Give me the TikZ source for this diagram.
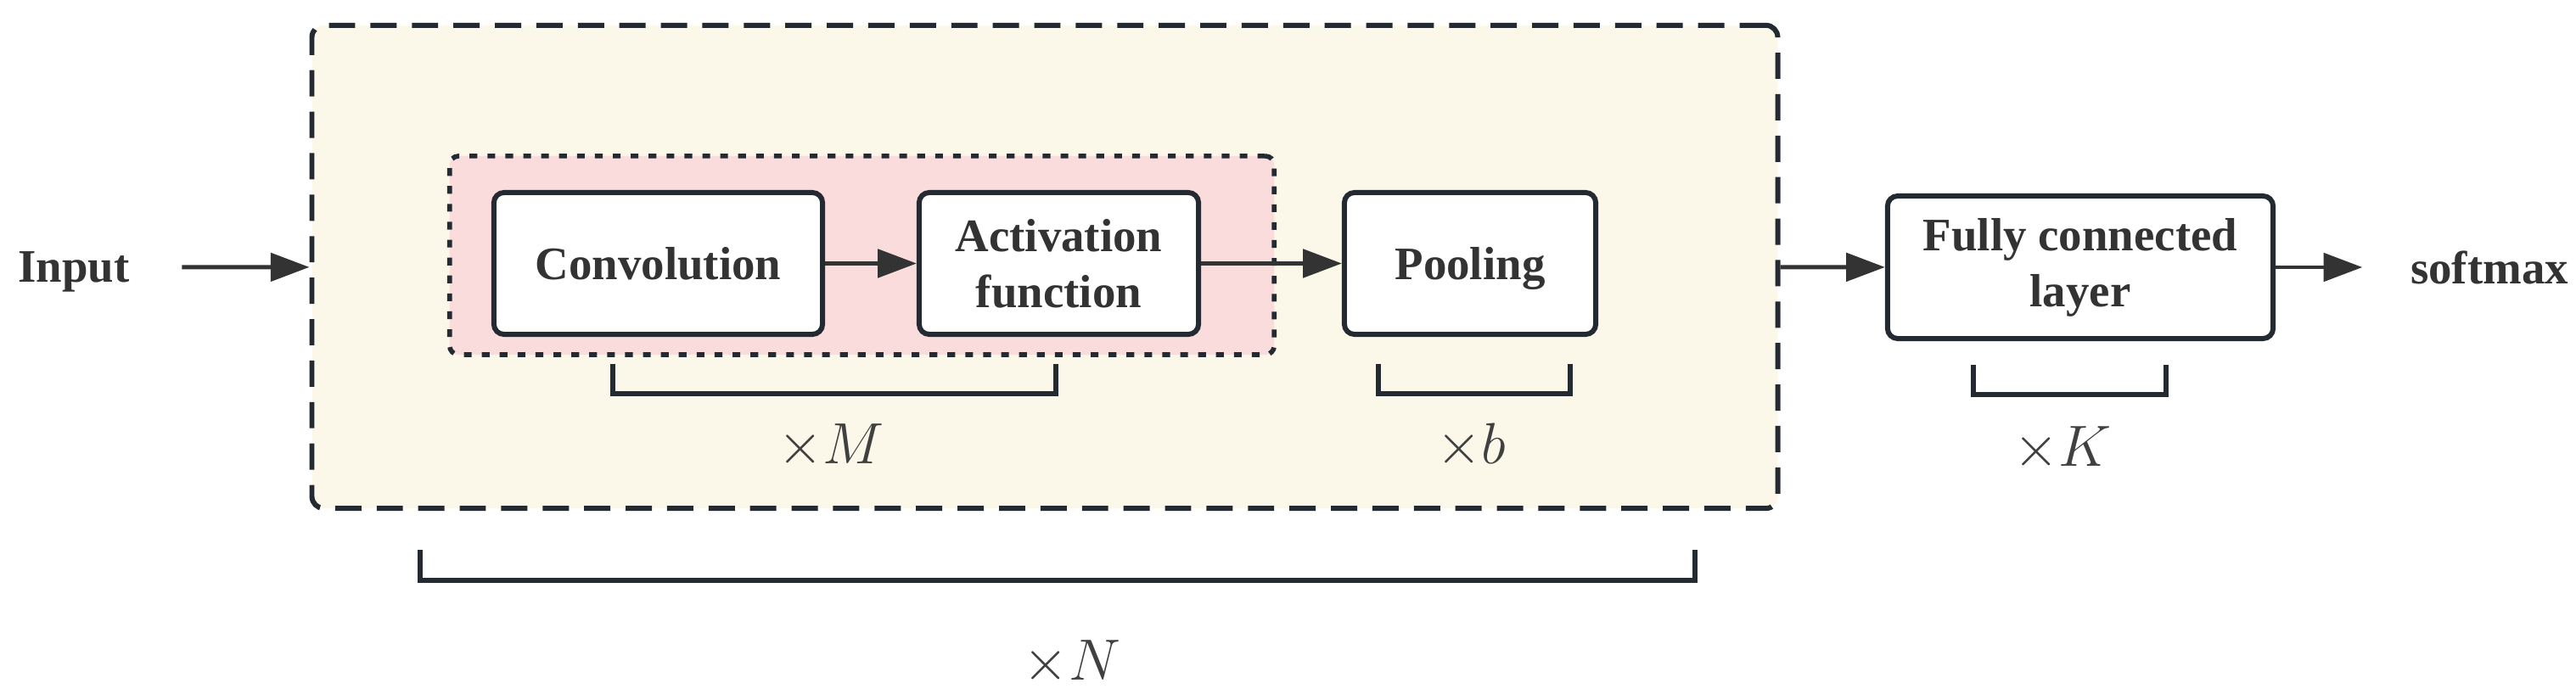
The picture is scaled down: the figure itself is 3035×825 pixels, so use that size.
\documentclass[tikz,border=0pt]{standalone}
\usepackage{fix-cm}
\usepackage{fontspec}
\setmainfont{Liberation Serif}
\usepackage{tikz}
\usetikzlibrary{arrows.meta}
\definecolor{edgegray}{HTML}{232A31}
\definecolor{arrowgray}{HTML}{333333}
\definecolor{creamfill}{HTML}{FBF8EA}
\definecolor{pinkfill}{HTML}{FADCDC}
\tikzset{
  font={\fontsize{15.6pt}{18.8pt}\selectfont\bfseries},
  every node/.style={text=arrowgray},
  layerbox/.style={draw=edgegray, line width=1.7pt, rounded corners=3.4pt, fill=white, align=center, inner sep=0pt},
  flow/.style={draw=arrowgray, line width=1.4pt, -{Triangle[length=13pt,width=9.4pt]}},
  brak/.style={draw=edgegray, line width=1.6pt},
  times/.style={font={\fontsize{19.5pt}{24pt}\selectfont}, text=black!75, anchor=base, inner sep=0pt}}

\begin{document}
\begin{tikzpicture}[x=0.01cm, y=-0.01cm]
  \useasboundingbox (0,0) rectangle (3035,825);
  % groups
  \node (blk) [draw=edgegray, fill=creamfill, line width=1.7pt, dash pattern=on 8.8pt off 5.1pt,
    rounded corners=4pt, minimum width=17.26cm, minimum height=5.69cm] at (1231,314.5) {};
  \node (grp) [draw=edgegray, fill=pinkfill, line width=1.6pt, dash pattern=on 2.6pt off 3.4pt,
    rounded corners=3pt, minimum width=9.71cm, minimum height=2.34cm] at (1015.5,301) {};
  % layers
  \node (conv) [layerbox, minimum width=3.87cm, minimum height=1.67cm] at (775.5,310.5) {Convolution};
  \node (act) [layerbox, minimum width=3.29cm, minimum height=1.67cm] at (1247.5,310.5) {Activation\\function};
  \node (pool) [layerbox, minimum width=2.96cm, minimum height=1.67cm, text depth=0pt] at (1732,310.5) {Pooling};
  \node (fc) [layerbox, minimum width=4.54cm, minimum height=1.68cm] at (2451,315) {Fully connected\\layer};
  \node (in) [inner sep=0pt, text depth=0pt] at (87,315) {Input};
  \node (sm) [inner sep=0pt, text depth=0pt] at (2933,315) {softmax};
  % arrows
  \draw[flow, shorten <=0.61cm] (in) -- (blk);
  \draw[flow] (conv) -- (act);
  \draw[flow] (act) -- (pool);
  \draw[flow] (blk) -- (fc);
  \draw[flow, shorten >=0.56cm] (fc) -- (sm);
  % repeat brackets
  \draw[brak] (722,429) -- (722,464) -- (1244,464) -- (1244,429);
  \draw[brak] (1624,429) -- (1624,464) -- (1850,464) -- (1850,429);
  \draw[brak] (2325,430) -- (2325,465) -- (2552,465) -- (2552,430);
  \draw[brak] (495,648) -- (495,684) -- (1997,684) -- (1997,648);
  \node (xm) [times] at (979,547) {$\times M$};
  \node (xb) [times] at (1733,547) {$\times b$};
  \node (xk) [times] at (2430,550) {$\times K$};
  \node (xn) [times] at (1263,802) {$\times N$};
\end{tikzpicture}
\end{document}
